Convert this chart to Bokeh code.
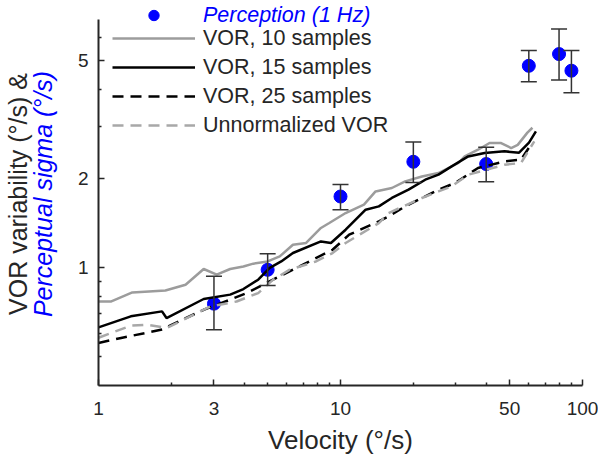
from bokeh.plotting import figure
from bokeh.models import (FixedTicker, CustomJSTickFormatter, LogAxis, Legend, LegendItem,
                          Whisker, ColumnDataSource, TeeHead, Range1d)
from bokeh.embed import file_html
from bokeh.resources import INLINE

# ---- data ----
perc_vel = [3, 5, 10, 20, 40, 60, 80, 90]
perc_sigma = [0.756, 0.984, 1.74, 2.28, 2.24, 4.81, 5.27, 4.63]
perc_upper = [0.935, 1.115, 1.91, 2.66, 2.55, 5.42, 6.41, 5.42]
perc_lower = [0.617, 0.87, 1.57, 1.94, 1.95, 4.25, 4.31, 3.90]

vor10_x = [1, 1.13, 1.38, 1.89, 2.29, 2.72, 3.08, 3.5, 3.97, 4.36, 5.0, 5.61, 6.36, 7.21, 8.30, 8.99,
           10.5, 12.5, 13.96, 16.3, 18.5, 21.7, 25.4, 30.7, 32.6, 37.0, 41.3, 46.1, 50.7, 54.0, 59.2, 62.1]
vor10_y = [0.769, 0.769, 0.825, 0.838, 0.876, 0.99, 0.947, 0.99, 1.01, 1.032, 1.05, 1.092, 1.196, 1.212,
           1.362, 1.416, 1.53, 1.633, 1.81, 1.859, 1.957, 2.034, 2.089, 2.258, 2.377, 2.504, 2.638, 2.638,
           2.537, 2.60, 2.86, 2.97]

vor15_x = [1, 1.36, 1.83, 1.91, 2.72, 3.5, 3.97, 4.57, 5.10, 5.69, 6.36, 8.30, 9.13, 10.5, 12.7, 14.4,
           16.3, 19.1, 22.4, 25.4, 28.8, 33.7, 39.4, 47.6, 54.7, 60.1, 64.2]
vor15_y = [0.629, 0.685, 0.712, 0.676, 0.784, 0.811, 0.847, 0.911, 0.999, 1.05, 1.121, 1.227, 1.212,
           1.344, 1.57, 1.611, 1.72, 1.835, 1.983, 2.062, 2.199, 2.377, 2.441, 2.472, 2.446, 2.645, 2.887]

vor25_x = [1, 1.24, 1.81, 2.72, 3.5, 4.09, 5.78, 6.77, 9.27, 10.86, 14.4, 15.8, 18.5, 25.4, 29.7, 37.0,
           47.6, 55.7, 61.2]
vor25_y = [0.557, 0.579, 0.617, 0.721, 0.78, 0.821, 0.947, 1.01, 1.15, 1.293, 1.434, 1.491, 1.611, 1.835,
           1.932, 2.172, 2.286, 2.317, 2.603]

unnorm_x = [1, 1.36, 1.59, 1.92, 2.90, 3.72, 4.57, 5.27, 6.17, 7.92, 9.27, 10.5, 14.4, 15.8, 21.7, 25.4,
            28.8, 33.7, 47.6, 55.7, 63.2]
unnorm_y = [0.58, 0.637, 0.642, 0.626, 0.74, 0.769, 0.821, 0.911, 0.985, 1.05, 1.121, 1.212, 1.415, 1.53,
            1.72, 1.81, 1.883, 2.062, 2.228, 2.258, 2.672]

x_ticks = [1, 3, 10, 50, 100]
x_minor = [2, 4, 5, 6, 7, 8, 9, 20, 30, 40, 60, 70, 80, 90]
y_ticks = [1, 2, 5]
y_minor = [0.5, 0.6, 0.7, 0.8, 0.9, 3, 4, 6]
y_axis_span = (0.4, 6.9)

FONT = "Liberation Sans"
TXT = "#262626"
BLUE = "#0000ff"

FRAME_H = 383
p = figure(frame_width=484, frame_height=FRAME_H, x_axis_type="log", y_axis_type="log",
           x_range=Range1d(1, 100), y_range=Range1d(0.4, 7.87),
           output_backend="svg", toolbar_location=None,
           min_border_left=98, min_border_right=16, min_border_top=2, min_border_bottom=74)
p.outline_line_color = None
p.xgrid.visible = False
p.ygrid.visible = False
p.background_fill_color = "white"

fmt = CustomJSTickFormatter(code="return String(tick);")
for ax, ticks, minor in ((p.xaxis[0], x_ticks, x_minor), (p.yaxis[0], y_ticks, y_minor)):
    ax.ticker = FixedTicker(ticks=ticks, minor_ticks=minor)
    ax.formatter = fmt
    ax.axis_line_width = 2
    ax.axis_line_color = TXT
    ax.major_tick_in = 6
    ax.major_tick_out = 0
    ax.minor_tick_in = 3
    ax.minor_tick_out = 0
    ax.major_tick_line_width = 1.5
    ax.minor_tick_line_width = 1.5
    ax.major_tick_line_color = TXT
    ax.minor_tick_line_color = TXT
    ax.major_label_text_font = FONT
    ax.major_label_text_font_size = "19px"
    ax.major_label_text_color = TXT
    ax.axis_label_text_font = FONT
    ax.axis_label_text_font_style = "normal"

xa = p.xaxis[0]
xa.axis_label = "Velocity (°/s)"
xa.axis_label_text_color = TXT
xa.axis_label_text_font_size = "26px"
xa.major_label_standoff = 16
xa.axis_label_standoff = 7

ya = p.yaxis[0]
ya.bounds = y_axis_span
ya.axis_label = "Perceptual sigma (°/s)"
ya.axis_label_text_color = BLUE
ya.axis_label_text_font_style = "italic"
ya.axis_label_text_font_size = "25px"
ya.major_label_standoff = 10
ya.axis_label_standoff = 18

ya2 = LogAxis(ticker=FixedTicker(ticks=[]), axis_label="VOR variability (°/s) &",
              axis_line_color=None, major_tick_line_color=None, minor_tick_line_color=None,
              major_label_text_font_size="0px", axis_label_standoff=-6,
              axis_label_text_font=FONT, axis_label_text_font_size="25px",
              axis_label_text_color=TXT, axis_label_text_font_style="normal")
p.add_layout(ya2, "left")

# ---- error bars and points ----
src = ColumnDataSource(dict(x=perc_vel, y=perc_sigma, upper=perc_upper, lower=perc_lower))
wh = Whisker(source=src, base="x", upper="upper", lower="lower", dimension="height",
             line_color="#333333", line_width=1.5,
             upper_head=TeeHead(size=16, line_color="#333333", line_width=1.5),
             lower_head=TeeHead(size=16, line_color="#333333", line_width=1.5))
wh.level = "glyph"
p.add_layout(wh)
dots = p.scatter("x", "y", source=src, size=13, fill_color=BLUE, line_color=BLUE)

# ---- lines ----
l10 = p.line(vor10_x, vor10_y, line_color="#9c9c9c", line_width=2.5)
l15 = p.line(vor15_x, vor15_y, line_color="#000000", line_width=2.5)
l25 = p.line(vor25_x, vor25_y, line_color="#000000", line_width=2.5, line_dash="11 7")
lun = p.line(unnorm_x, unnorm_y, line_color="#a8a8a8", line_width=2.5, line_dash="11 7")

# ---- legends (location = bottom-left corner, pixels from frame bottom-left) ----
common = dict(border_line_color=None, background_fill_alpha=0, padding=0, margin=0,
              glyph_width=83, glyph_height=26, label_height=26, label_standoff=8,
              label_text_font=FONT, label_text_font_size="21.5px")
legA = Legend(items=[LegendItem(label="Perception (1 Hz)", renderers=[dots])],
              location=(14, FRAME_H - 26), label_text_color=BLUE, label_text_font_style="italic",
              spacing=0, **common)
legB = Legend(items=[LegendItem(label="VOR, 10 samples", renderers=[l10]),
                     LegendItem(label="VOR, 15 samples", renderers=[l15]),
                     LegendItem(label="VOR, 25 samples", renderers=[l25]),
                     LegendItem(label="Unnormalized VOR", renderers=[lun])],
              location=(14, FRAME_H - 136), label_text_color=TXT, spacing=3, **common)
p.add_layout(legA)
p.add_layout(legB)

open("out.html", "w").write(file_html(p, INLINE))
